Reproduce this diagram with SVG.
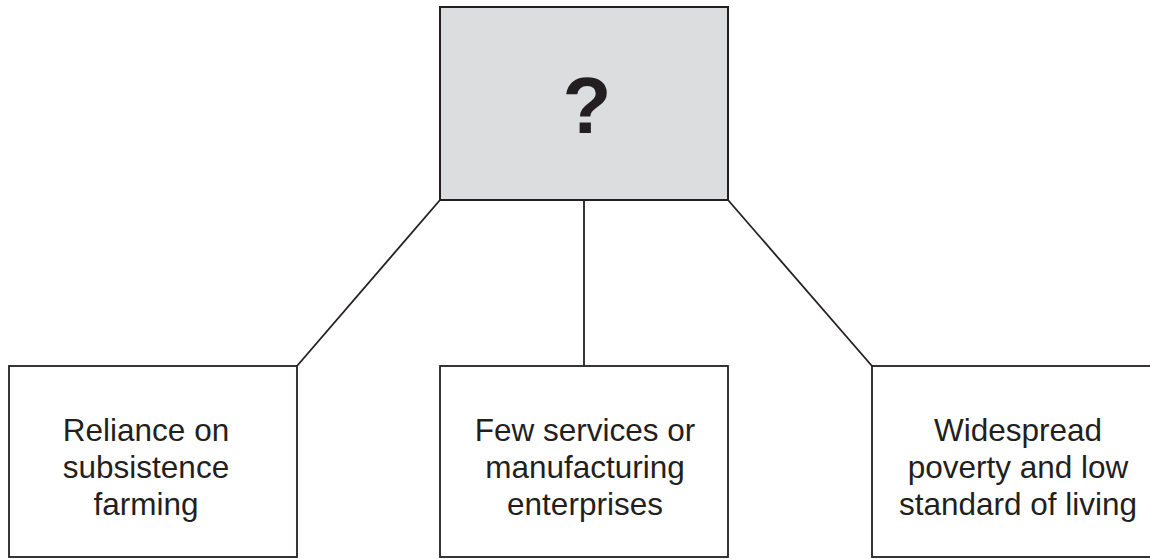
<svg xmlns="http://www.w3.org/2000/svg" width="1150" height="559" viewBox="0 0 1150 559">
<style>
.box{fill:#ffffff;stroke:#231f20;stroke-width:1.8}
.top{fill:#dcdddf;stroke:#231f20;stroke-width:2}
.conn{stroke:#231f20;stroke-width:1.8;fill:none}
.t{font-family:"Liberation Sans",Arial,sans-serif;font-size:31.5px;fill:#231f20;text-anchor:middle}
.q{font-family:"Liberation Sans",Arial,sans-serif;font-size:80px;font-weight:bold;fill:#231f20;text-anchor:middle}
</style>
<rect width="1150" height="559" fill="#ffffff"/>
<g id="connectors">
<line class="conn" x1="440" y1="200" x2="297" y2="366"/>
<line class="conn" x1="584" y1="200" x2="584" y2="366"/>
<line class="conn" x1="728" y1="200" x2="872" y2="366"/>
</g>
<g id="top">
<rect class="top" x="440" y="7" width="288" height="193"/>
<text class="q" x="587" y="133">?</text>
</g>
<g id="left">
<rect class="box" x="9" y="366" width="288" height="191"/>
<text class="t" x="146" y="441">Reliance on</text>
<text class="t" x="146" y="478">subsistence</text>
<text class="t" x="146" y="515">farming</text>
</g>
<g id="middle">
<rect class="box" x="440" y="366" width="288" height="191"/>
<text class="t" x="585" y="441">Few services or</text>
<text class="t" x="585" y="478">manufacturing</text>
<text class="t" x="585" y="515">enterprises</text>
</g>
<g id="right">
<rect class="box" x="872" y="366" width="288" height="191"/>
<text class="t" x="1018" y="441">Widespread</text>
<text class="t" x="1018" y="478">poverty and low</text>
<text class="t" x="1018" y="515">standard of living</text>
</g>
</svg>
